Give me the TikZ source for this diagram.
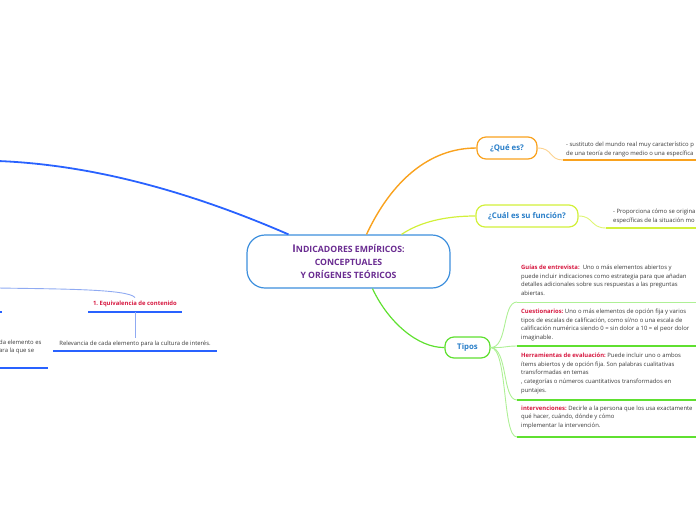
\documentclass[tikz,border=0pt]{standalone}
\usepackage{fontspec}
\setmainfont{Open Sans}
\usetikzlibrary{calc}
\frenchspacing
\definecolor{cblue}{HTML}{2962FF}
\definecolor{clblue}{HTML}{8FAAF2}
\definecolor{cborder}{HTML}{3D8FDD}
\definecolor{corange}{HTML}{F9A21E}
\definecolor{clorange}{HTML}{FCD28E}
\definecolor{cyellow}{HTML}{D2F03A}
\definecolor{cgreen}{HTML}{5FE030}
\definecolor{clgreen}{HTML}{AEF095}
\definecolor{cpurple}{HTML}{6A2C91}
\definecolor{ctopic}{HTML}{2A7FC9}
\definecolor{cred}{HTML}{D6173F}
\definecolor{cgray}{HTML}{3A3A3A}
\tikzset{
  topic/.style={draw, line width=1.2pt, rounded corners=9pt, fill=white, text=ctopic,
    font=\fontsize{7.8}{9}\selectfont\bfseries, inner sep=0pt},
  leaf/.style={text=cgray, font=\fontsize{5.9}{8.8}\selectfont, inner sep=0pt, align=left},
  redlab/.style={text=cred, font=\fontsize{5.9}{8.8}\selectfont\bfseries, inner sep=0pt},
  uline/.style={line width=1.6pt},
}
\begin{document}
\begin{tikzpicture}[x=1pt,y=-1pt]
\useasboundingbox (0,0) rectangle (696,520);
\begin{scope}
\clip (0,0) rectangle (696,520);
% central node
\node[draw=cborder, line width=1.2pt, rounded corners=18pt, fill=white,
  minimum width=203pt, minimum height=53pt, align=center, text=cpurple,
  font=\fontsize{8.7}{13}\selectfont\bfseries] (center) at (348.5,261.5)
  {{\fontsize{10.6}{13}\selectfont I}NDICADORES EMPÍRICOS:\\CONCEPTUALES\\Y ORÍGENES TEÓRICOS};
% main topics
\node[topic, draw=corange, minimum width=60pt, minimum height=22pt] (que) at (507,148) {¿Qué es?};
\node[topic, draw=cyellow, minimum width=102pt, minimum height=22pt] (cual) at (527,216) {¿Cuál es su función?};
\node[topic, draw=cgreen, minimum width=45pt, minimum height=21pt] (tipos) at (467.5,347.5) {Tipos};
% connectors from center
\coordinate (cA) at ($(center.north)+(-60,0)$);
\coordinate (cB) at ($(center.north)+(18,0)$);
\coordinate (cC) at ($(center.north)+(53,0)$);
\coordinate (cD) at ($(center.south)+(24,0)$);
\coordinate (leftend) at (-2,161);
\draw[cblue, line width=1.8pt] (cA) .. controls (200,196) and (100,165) .. (leftend);
\draw[corange, line width=1.4pt] (cB) .. controls (392,180) and (430,148) .. (que.west);
\draw[cyellow, line width=1.2pt] (cC) .. controls (420,222) and (445,216) .. (cual.west);
\draw[cgreen, line width=1.2pt] (cD) .. controls (388,322) and (418,348) .. (tipos.west);
% Qué es leaf
\node[leaf, anchor=north west] (quetxt) at (566,141.5) {- sustituto del mundo real muy característico p\\de una teoría de rango medio o una específica};
\coordinate (queul) at (563,160);
\coordinate (queulend) at (700,160);
\draw[clorange, line width=0.9pt] (que.east) .. controls (553,148) and (549,160) .. (queul);
\draw[corange, uline] (queul) -- (queulend);
% Cuál leaf
\node[leaf, anchor=north west] (cualtxt) at (613,208.5) {- Proporciona cómo se origina\\específicas de la situación mo};
\coordinate (cualul) at (606,228);
\coordinate (cualulend) at (700,228);
\draw[cyellow!70!white, line width=0.9pt] (cual.east) .. controls (594,216) and (590,228) .. (cualul);
\draw[cyellow, uline] (cualul) -- (cualulend);
% Tipos leaves
\node[leaf, anchor=north west] (guias) at (521,264.5) {{\color{cred}\bfseries Guías de entrevista:}\ \ Uno o más elementos abiertos y\\puede incluir indicaciones como estrategia para que añadan\\detalles adicionales sobre sus respuestas a las preguntas\\abiertas.};
\node[leaf, anchor=north west] (cuest) at (521,308.5) {{\color{cred}\bfseries Cuestionarios:} Uno o más elementos de opción fija y varios\\tipos de escalas de calificación, como sí/no o una escala de\\calificación numérica siendo 0 = sin dolor a 10 = el peor dolor\\imaginable.};
\node[leaf, anchor=north west] (herr) at (521,352.5) {{\color{cred}\bfseries Herramientas de evaluación:} Puede incluir uno o ambos\\ítems abiertos y de opción fija. Son palabras cualitativas\\transformadas en temas\\, categorías o números cuantitativos transformados en\\puntajes.};
\node[leaf, anchor=north west] (interv) at (521,405.5) {{\color{cred}\bfseries intervenciones:} Decirle a la persona que los usa exactamente\\qué hacer, cuándo, dónde y cómo\\implementar la intervención.};
\coordinate (g1) at (517,302);
\coordinate (g2) at (517,346);
\coordinate (g3) at (517,400);
\coordinate (g4) at (517,437);
\coordinate (g1e) at (700,302);
\coordinate (g2e) at (700,346);
\coordinate (g3e) at (700,400);
\coordinate (g4e) at (700,437);
\draw[clgreen, line width=0.9pt] (tipos.east) .. controls (508,348) and (502,302) .. (g1);
\draw[clgreen, line width=0.9pt] (tipos.east) .. controls (505,348) and (505,346) .. (g2);
\draw[clgreen, line width=0.9pt] (tipos.east) .. controls (508,348) and (502,400) .. (g3);
\draw[clgreen, line width=0.9pt] (tipos.east) .. controls (508,348) and (502,437) .. (g4);
\draw[clgreen, line width=1pt] (g1) -- (g1e);
\draw[cgreen, uline] (g2) -- (g2e);
\draw[cgreen, uline] (g3) -- (g3e);
\draw[cgreen, uline] (g4) -- (g4e);
% left part
\node[redlab] (eq) at (135,303.5) {1. Equivalencia de contenido};
\coordinate (eqtop) at (135,297.5);
\coordinate (lleft) at (-2,288);
\draw[clblue, line width=0.9pt] (lleft) .. controls (60,289) and (128,289) .. (eqtop);
\coordinate (eqa) at (88,312);
\coordinate (eqb) at (182,312);
\coordinate (eqm) at (135,312);
\draw[cblue, uline] (eqa) -- (eqb);
\node[leaf] (rel) at (135,344) {Relevancia de cada elemento para la cultura de interés.};
\coordinate (relm) at (135,338);
\draw[clblue, line width=0.9pt] (eqm) -- (relm);
\coordinate (rela) at (53,351);
\coordinate (relb) at (217,351);
\draw[cblue, uline] (rela) -- (relb);
\coordinate (stuba) at (-5,312);
\coordinate (stubb) at (1.5,312);
\draw[cblue, uline] (stuba) -- (stubb);
\node[leaf, anchor=north west] (lefttxt) at (-1,339.5) {da elemento es\\ara la que se};
\coordinate (lula) at (-5,368);
\coordinate (lulb) at (48,368);
\draw[cblue, uline] (lula) -- (lulb);
\end{scope}
\end{tikzpicture}
\end{document}
